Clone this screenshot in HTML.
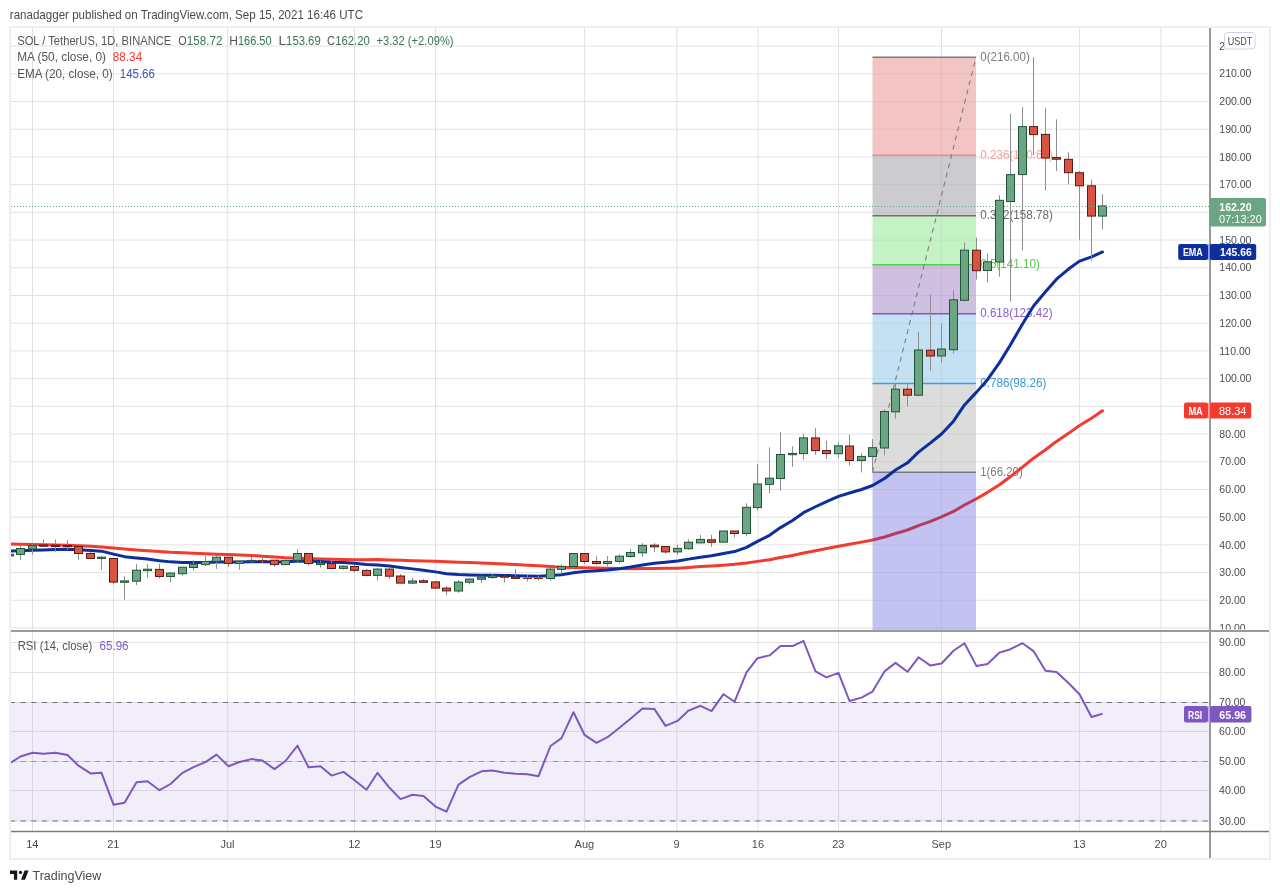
<!DOCTYPE html><html><head><meta charset="utf-8"><title>SOL / TetherUS chart</title>
<style>html,body{margin:0;padding:0;background:#fff;}body{width:1280px;height:893px;overflow:hidden;position:relative;}svg{position:absolute;left:0;top:0;display:block;will-change:transform;filter:blur(0.4px)}</style></head><body>
<svg width="1280" height="893" viewBox="0 0 1280 893" font-family="'Liberation Sans', Arial, sans-serif">
<defs><clipPath id="cp"><rect x="10" y="28" width="1199" height="602"/></clipPath><clipPath id="cr"><rect x="10" y="632" width="1199" height="199"/></clipPath></defs>
<rect width="1280" height="893" fill="#fff"/>
<text x="9.8" y="18.5" font-size="12.2" fill="#4a4a4a" textLength="353.2" lengthAdjust="spacingAndGlyphs">ranadagger published on TradingView.com, Sep 15, 2021 16:46 UTC</text>
<path d="M11,627.99H1209 M11,600.28H1209 M11,572.57H1209 M11,544.86H1209 M11,517.15H1209 M11,489.44H1209 M11,461.73H1209 M11,434.02H1209 M11,406.31H1209 M11,378.6H1209 M11,350.89H1209 M11,323.18H1209 M11,295.47H1209 M11,267.76H1209 M11,240.05H1209 M11,212.34H1209 M11,184.63H1209 M11,156.92H1209 M11,129.21H1209 M11,101.5H1209 M11,73.79H1209 M11,46.08H1209 M32.5,28V630 M32.5,632V831 M113.5,28V630 M113.5,632V831 M227.7,28V630 M227.7,632V831 M354.5,28V630 M354.5,632V831 M435.6,28V630 M435.6,632V831 M584.6,28V630 M584.6,632V831 M676.8,28V630 M676.8,632V831 M758.1,28V630 M758.1,632V831 M838.5,28V630 M838.5,632V831 M941.5,28V630 M941.5,632V831 M1079.6,28V630 M1079.6,632V831 M1160.9,28V630 M1160.9,632V831 M11,642.5H1209 M11,672.5H1209 M11,702.5H1209 M11,731.5H1209 M11,761.5H1209 M11,790.5H1209 M11,821.0H1209" stroke="#e2e2e4" stroke-width="1" fill="none"/>
<rect x="872.5" y="57.16" width="103.5" height="573.84" fill="#fff" fill-opacity="0.5"/>
<rect x="11" y="702.5" width="1198" height="118.5" fill="#7e57c2" fill-opacity="0.1"/>
<g clip-path="url(#cp)">
<text x="980.2" y="60.6" font-size="12.5" fill="#7b7b7b" textLength="49.6" lengthAdjust="spacingAndGlyphs">0(216.00)</text>
<text x="980.2" y="158.5" font-size="12.5" fill="#f2a0a0" textLength="72.8" lengthAdjust="spacingAndGlyphs">0.236(180.65)</text>
<text x="980.2" y="219.1" font-size="12.5" fill="#6a6a6a" textLength="72.8" lengthAdjust="spacingAndGlyphs">0.382(158.78)</text>
<text x="980.2" y="268.1" font-size="12.5" fill="#4fcf4f" textLength="59.8" lengthAdjust="spacingAndGlyphs">0.5(141.10)</text>
<text x="980.2" y="317.1" font-size="12.5" fill="#8a5cc6" textLength="72.4" lengthAdjust="spacingAndGlyphs">0.618(123.42)</text>
<text x="980.2" y="386.8" font-size="12.5" fill="#3a9ad8" textLength="66.3" lengthAdjust="spacingAndGlyphs">0.786(98.26)</text>
<text x="980.2" y="475.7" font-size="12.5" fill="#7b7b7b" textLength="42.6" lengthAdjust="spacingAndGlyphs">1(66.20)</text>
<path d="M10.00,544.11 L20.50,544.27 L32.50,544.46 L43.50,544.67 L55.50,544.91 L67.50,545.15 L78.50,545.68 L90.50,546.36 L101.50,547.03 L113.50,548.07 L124.50,549.02 L136.50,549.96 L147.50,550.73 L159.50,551.56 L170.50,552.32 L182.50,552.80 L193.50,553.24 L205.50,553.72 L216.50,554.13 L228.50,554.55 L239.50,554.93 L251.50,555.40 L262.50,556.17 L274.50,557.01 L285.50,557.78 L297.50,558.31 L308.50,558.61 L320.50,558.94 L331.50,559.24 L343.50,559.57 L354.50,559.73 L366.50,559.67 L377.50,559.61 L389.50,559.90 L400.50,560.25 L412.50,560.63 L423.50,560.98 L435.50,561.36 L446.50,561.74 L458.50,562.17 L469.50,562.57 L481.50,563.00 L492.50,563.50 L504.50,564.04 L515.50,564.54 L527.50,565.19 L538.50,565.87 L550.50,566.60 L561.50,567.23 L573.50,567.55 L584.50,567.70 L596.50,568.00 L607.50,568.32 L619.50,568.52 L630.50,568.64 L642.50,568.62 L654.50,568.48 L665.50,568.35 L677.50,568.17 L688.50,567.38 L700.50,566.55 L711.50,565.99 L723.50,565.22 L734.50,564.36 L746.50,563.05 L757.50,561.38 L769.50,559.66 L780.50,557.52 L792.50,555.45 L803.50,552.93 L815.50,550.72 L826.50,548.59 L838.50,546.28 L849.50,544.20 L861.50,542.12 L872.50,540.00 L884.50,536.97 L895.50,533.49 L907.50,530.02 L918.50,525.70 L930.50,521.41 L941.50,516.88 L953.50,511.49 L964.50,504.97 L976.50,498.72 L987.50,492.34 L999.50,484.70 L1010.50,476.43 L1022.50,467.14 L1033.50,458.19 L1045.50,449.77 L1056.50,441.41 L1068.50,433.35 L1079.50,425.52 L1091.50,418.27 L1102.50,410.82" stroke="#f23b2e" stroke-width="3" fill="none" stroke-linejoin="round" stroke-linecap="round"/>
<rect x="872.5" y="57.16" width="103.5" height="97.96" fill="rgb(212, 58, 58)" fill-opacity="0.3"/>
<rect x="872.5" y="155.13" width="103.5" height="60.60" fill="rgb(85, 82, 98)" fill-opacity="0.3"/>
<rect x="872.5" y="215.73" width="103.5" height="48.98" fill="rgb(58, 212, 58)" fill-opacity="0.3"/>
<rect x="872.5" y="264.71" width="103.5" height="48.98" fill="rgb(95, 42, 152)" fill-opacity="0.3"/>
<rect x="872.5" y="313.69" width="103.5" height="69.74" fill="rgb(58, 155, 215)" fill-opacity="0.3"/>
<rect x="872.5" y="383.43" width="103.5" height="88.83" fill="rgb(138, 138, 138)" fill-opacity="0.3"/>
<rect x="872.5" y="472.26" width="103.5" height="158.74" fill="rgb(52, 55, 208)" fill-opacity="0.3"/>
<path d="M872.5,57.16H976.0" stroke="#787b86" stroke-width="1.5"/>
<path d="M872.5,155.13H976.0" stroke="#f08a8a" stroke-width="1.5"/>
<path d="M872.5,215.73H976.0" stroke="#6e6e6e" stroke-width="1.5"/>
<path d="M872.5,264.71H976.0" stroke="#4cd44c" stroke-width="1.5"/>
<path d="M872.5,313.69H976.0" stroke="#7e57c2" stroke-width="1.5"/>
<path d="M872.5,383.43H976.0" stroke="#3d9ee0" stroke-width="1.5"/>
<path d="M872.5,472.26H976.0" stroke="#787b86" stroke-width="1.5"/>
<path d="M872.5,472.3L976.0,57.2" stroke="#7e7e7e" stroke-width="1.1" stroke-dasharray="5,4.5" fill="none"/>
<path d="M9.50,551.00 L20.50,550.76 L32.50,550.27 L43.50,549.88 L55.50,549.55 L67.50,549.27 L78.50,549.67 L90.50,550.51 L101.50,551.16 L113.50,554.10 L124.50,556.65 L136.50,557.95 L147.50,559.02 L159.50,560.69 L170.50,561.87 L182.50,562.38 L193.50,562.54 L205.50,562.44 L216.50,561.95 L228.50,562.10 L239.50,562.02 L251.50,561.86 L262.50,561.77 L274.50,562.04 L285.50,561.88 L297.50,561.09 L308.50,561.32 L320.50,561.49 L331.50,562.15 L343.50,562.54 L354.50,563.29 L366.50,564.45 L377.50,564.89 L389.50,565.97 L400.50,567.60 L412.50,568.88 L423.50,570.15 L435.50,571.86 L446.50,573.67 L458.50,574.48 L469.50,574.92 L481.50,575.14 L492.50,575.21 L504.50,575.41 L515.50,575.69 L527.50,575.97 L538.50,576.22 L550.50,575.54 L561.50,574.68 L573.50,572.66 L584.50,571.60 L596.50,570.83 L607.50,569.94 L619.50,568.64 L630.50,567.10 L642.50,565.03 L654.50,563.31 L665.50,562.22 L677.50,560.90 L688.50,559.13 L700.50,557.25 L711.50,555.82 L723.50,553.46 L734.50,551.56 L746.50,547.34 L757.50,541.31 L769.50,535.30 L780.50,527.60 L792.50,520.54 L803.50,512.67 L815.50,506.75 L826.50,501.69 L838.50,496.36 L849.50,492.95 L861.50,489.47 L872.50,485.49 L884.50,478.44 L895.50,469.94 L907.50,462.83 L918.50,452.08 L930.50,442.93 L941.50,433.98 L953.50,421.20 L964.50,404.91 L976.50,392.13 L987.50,379.72 L999.50,362.63 L1010.50,344.72 L1022.50,323.95 L1033.50,305.92 L1045.50,291.83 L1056.50,279.20 L1068.50,269.06 L1079.50,261.13 L1091.50,256.84 L1102.50,251.99" stroke="#0d2f9e" stroke-width="3" fill="none" stroke-linejoin="round" stroke-linecap="round"/>
<path d="M9.5,554.0V556.5 M20.5,546.0V559.8 M32.5,542.5V554.8 M43.5,539.4V546.9 M55.5,539.4V551.9 M67.5,540.0V550.0 M78.5,546.0V559.8 M90.5,552.0V558.5 M101.5,556.2V569.8 M113.5,558.5V584.4 M124.5,576.2V599.8 M136.5,564.0V585.2 M147.5,564.0V577.6 M159.5,564.0V578.5 M170.5,572.2V582.5 M182.5,567.2V575.6 M193.5,560.2V570.6 M205.5,556.0V566.0 M216.5,555.6V568.8 M228.5,557.2V566.9 M239.5,560.0V569.8 M251.5,556.9V563.8 M262.5,557.2V562.8 M274.5,560.2V566.9 M285.5,558.5V564.6 M297.5,549.2V562.6 M308.5,553.5V565.6 M320.5,560.6V567.8 M331.5,560.6V569.4 M343.5,565.2V569.8 M354.5,565.0V572.5 M366.5,569.0V576.5 M377.5,568.1V580.6 M389.5,568.1V578.8 M400.5,574.0V583.1 M412.5,577.9V584.0 M423.5,578.8V583.1 M435.5,581.9V589.0 M446.5,586.2V595.0 M458.5,580.0V592.8 M469.5,578.1V584.4 M481.5,575.6V583.1 M492.5,573.8V578.8 M504.5,575.0V582.5 M515.5,569.0V579.0 M527.5,575.0V581.5 M538.5,575.6V580.6 M550.5,567.2V580.6 M561.5,564.4V573.1 M573.5,553.5V568.5 M584.5,553.5V563.8 M596.5,556.1V564.8 M607.5,556.0V566.2 M619.5,554.4V563.5 M630.5,549.0V557.8 M642.5,543.1V556.9 M654.5,543.1V551.9 M665.5,546.5V553.8 M677.5,544.8V554.8 M688.5,539.4V549.8 M700.5,534.8V542.9 M711.5,534.8V546.9 M723.5,531.0V542.9 M734.5,531.0V537.5 M746.5,503.4V536.2 M757.5,464.2V510.5 M769.5,447.4V493.3 M780.5,431.8V490.5 M792.5,446.3V466.8 M803.5,434.0V459.8 M815.5,428.1V454.9 M826.5,440.7V459.0 M838.5,442.4V457.9 M849.5,434.8V465.7 M861.5,453.3V472.4 M872.5,439.1V471.3 M884.5,409.3V455.2 M895.5,383.8V418.7 M907.5,384.1V406.5 M918.5,331.7V395.9 M930.5,294.7V370.8 M941.5,323.3V362.8 M953.5,289.7V353.5 M964.5,242.6V300.9 M976.5,237.6V279.6 M987.5,253.5V282.4 M999.5,195.1V276.8 M1010.5,113.7V301.6 M1022.5,107.0V250.5 M1033.5,57.2V155.0 M1045.5,107.8V190.7 M1056.5,119.4V171.0 M1068.5,152.3V184.4 M1079.5,171.0V239.8 M1091.5,179.7V260.7 M1102.5,194.3V229.5" stroke="#8e8e90" stroke-width="1" fill="none"/>
<rect x="5.5" y="554.3" width="8" height="1.7" fill="#6ba583" stroke="#225437" stroke-width="1"/>
<rect x="16.5" y="548.5" width="8" height="5.9" fill="#6ba583" stroke="#225437" stroke-width="1"/>
<rect x="28.5" y="545.6" width="8" height="3.4" fill="#6ba583" stroke="#225437" stroke-width="1"/>
<rect x="39.5" y="545.0" width="8" height="1.2" fill="#d75442" stroke="#5b1a13" stroke-width="1"/>
<rect x="51.5" y="545.2" width="8" height="1.2" fill="#d75442" stroke="#5b1a13" stroke-width="1"/>
<rect x="63.5" y="545.4" width="8" height="1.2" fill="#d75442" stroke="#5b1a13" stroke-width="1"/>
<rect x="74.5" y="546.5" width="8" height="7.0" fill="#d75442" stroke="#5b1a13" stroke-width="1"/>
<rect x="86.5" y="553.5" width="8" height="5.0" fill="#d75442" stroke="#5b1a13" stroke-width="1"/>
<rect x="97.5" y="557.2" width="8" height="1.2" fill="#6ba583" stroke="#225437" stroke-width="1"/>
<rect x="109.5" y="558.5" width="8" height="23.6" fill="#d75442" stroke="#5b1a13" stroke-width="1"/>
<rect x="120.5" y="580.9" width="8" height="1.4" fill="#6ba583" stroke="#225437" stroke-width="1"/>
<rect x="132.5" y="570.2" width="8" height="11.0" fill="#6ba583" stroke="#225437" stroke-width="1"/>
<rect x="143.5" y="569.2" width="8" height="1.4" fill="#6ba583" stroke="#225437" stroke-width="1"/>
<rect x="155.5" y="569.4" width="8" height="7.1" fill="#d75442" stroke="#5b1a13" stroke-width="1"/>
<rect x="166.5" y="573.1" width="8" height="3.4" fill="#6ba583" stroke="#225437" stroke-width="1"/>
<rect x="178.5" y="567.2" width="8" height="6.5" fill="#6ba583" stroke="#225437" stroke-width="1"/>
<rect x="189.5" y="564.1" width="8" height="3.4" fill="#6ba583" stroke="#225437" stroke-width="1"/>
<rect x="201.5" y="561.5" width="8" height="3.1" fill="#6ba583" stroke="#225437" stroke-width="1"/>
<rect x="212.5" y="557.2" width="8" height="4.2" fill="#6ba583" stroke="#225437" stroke-width="1"/>
<rect x="224.5" y="557.2" width="8" height="6.2" fill="#d75442" stroke="#5b1a13" stroke-width="1"/>
<rect x="235.5" y="561.2" width="8" height="2.2" fill="#6ba583" stroke="#225437" stroke-width="1"/>
<rect x="247.5" y="560.4" width="8" height="1.1" fill="#6ba583" stroke="#225437" stroke-width="1"/>
<rect x="258.0" y="559.9" width="9" height="1.2" fill="#8a2e24"/>
<rect x="270.5" y="560.2" width="8" height="4.4" fill="#d75442" stroke="#5b1a13" stroke-width="1"/>
<rect x="281.5" y="560.4" width="8" height="4.2" fill="#6ba583" stroke="#225437" stroke-width="1"/>
<rect x="293.5" y="553.5" width="8" height="6.9" fill="#6ba583" stroke="#225437" stroke-width="1"/>
<rect x="304.5" y="553.5" width="8" height="10.0" fill="#d75442" stroke="#5b1a13" stroke-width="1"/>
<rect x="316.5" y="563.1" width="8" height="1.5" fill="#6ba583" stroke="#225437" stroke-width="1"/>
<rect x="327.5" y="563.5" width="8" height="5.0" fill="#d75442" stroke="#5b1a13" stroke-width="1"/>
<rect x="339.5" y="566.2" width="8" height="2.2" fill="#6ba583" stroke="#225437" stroke-width="1"/>
<rect x="350.5" y="566.5" width="8" height="3.9" fill="#d75442" stroke="#5b1a13" stroke-width="1"/>
<rect x="362.5" y="570.4" width="8" height="5.0" fill="#d75442" stroke="#5b1a13" stroke-width="1"/>
<rect x="373.5" y="569.1" width="8" height="6.3" fill="#6ba583" stroke="#225437" stroke-width="1"/>
<rect x="385.5" y="569.1" width="8" height="7.1" fill="#d75442" stroke="#5b1a13" stroke-width="1"/>
<rect x="396.5" y="576.0" width="8" height="7.1" fill="#d75442" stroke="#5b1a13" stroke-width="1"/>
<rect x="408.5" y="581.0" width="8" height="2.1" fill="#6ba583" stroke="#225437" stroke-width="1"/>
<rect x="419.5" y="580.8" width="8" height="1.5" fill="#d75442" stroke="#5b1a13" stroke-width="1"/>
<rect x="431.5" y="581.9" width="8" height="6.2" fill="#d75442" stroke="#5b1a13" stroke-width="1"/>
<rect x="442.5" y="588.1" width="8" height="2.8" fill="#d75442" stroke="#5b1a13" stroke-width="1"/>
<rect x="454.5" y="582.1" width="8" height="8.9" fill="#6ba583" stroke="#225437" stroke-width="1"/>
<rect x="465.5" y="579.1" width="8" height="3.1" fill="#6ba583" stroke="#225437" stroke-width="1"/>
<rect x="477.5" y="577.2" width="8" height="2.1" fill="#6ba583" stroke="#225437" stroke-width="1"/>
<rect x="488.5" y="575.9" width="8" height="1.6" fill="#6ba583" stroke="#225437" stroke-width="1"/>
<rect x="500.5" y="576.0" width="8" height="1.2" fill="#d75442" stroke="#5b1a13" stroke-width="1"/>
<rect x="511.5" y="577.1" width="8" height="1.3" fill="#d75442" stroke="#5b1a13" stroke-width="1"/>
<rect x="523.0" y="577.8" width="9" height="1.2" fill="#8a2e24"/>
<rect x="534.0" y="577.8" width="9" height="1.2" fill="#8a2e24"/>
<rect x="546.5" y="569.1" width="8" height="9.4" fill="#6ba583" stroke="#225437" stroke-width="1"/>
<rect x="557.5" y="566.5" width="8" height="2.9" fill="#6ba583" stroke="#225437" stroke-width="1"/>
<rect x="569.5" y="553.5" width="8" height="13.0" fill="#6ba583" stroke="#225437" stroke-width="1"/>
<rect x="580.5" y="553.5" width="8" height="8.0" fill="#d75442" stroke="#5b1a13" stroke-width="1"/>
<rect x="592.5" y="561.5" width="8" height="2.0" fill="#d75442" stroke="#5b1a13" stroke-width="1"/>
<rect x="603.5" y="561.5" width="8" height="2.0" fill="#6ba583" stroke="#225437" stroke-width="1"/>
<rect x="615.5" y="556.2" width="8" height="5.2" fill="#6ba583" stroke="#225437" stroke-width="1"/>
<rect x="626.5" y="552.5" width="8" height="4.0" fill="#6ba583" stroke="#225437" stroke-width="1"/>
<rect x="638.5" y="545.4" width="8" height="7.4" fill="#6ba583" stroke="#225437" stroke-width="1"/>
<rect x="650.5" y="545.2" width="8" height="1.6" fill="#d75442" stroke="#5b1a13" stroke-width="1"/>
<rect x="661.5" y="546.5" width="8" height="5.4" fill="#d75442" stroke="#5b1a13" stroke-width="1"/>
<rect x="673.5" y="548.4" width="8" height="3.5" fill="#6ba583" stroke="#225437" stroke-width="1"/>
<rect x="684.5" y="542.2" width="8" height="6.5" fill="#6ba583" stroke="#225437" stroke-width="1"/>
<rect x="696.5" y="539.4" width="8" height="3.5" fill="#6ba583" stroke="#225437" stroke-width="1"/>
<rect x="707.5" y="539.8" width="8" height="2.5" fill="#d75442" stroke="#5b1a13" stroke-width="1"/>
<rect x="719.5" y="531.0" width="8" height="11.1" fill="#6ba583" stroke="#225437" stroke-width="1"/>
<rect x="730.5" y="531.0" width="8" height="2.5" fill="#d75442" stroke="#5b1a13" stroke-width="1"/>
<rect x="742.5" y="507.3" width="8" height="26.2" fill="#6ba583" stroke="#225437" stroke-width="1"/>
<rect x="753.5" y="484.0" width="8" height="23.6" fill="#6ba583" stroke="#225437" stroke-width="1"/>
<rect x="765.5" y="478.2" width="8" height="6.2" fill="#6ba583" stroke="#225437" stroke-width="1"/>
<rect x="776.5" y="454.5" width="8" height="24.0" fill="#6ba583" stroke="#225437" stroke-width="1"/>
<rect x="788.5" y="453.4" width="8" height="1.3" fill="#6ba583" stroke="#225437" stroke-width="1"/>
<rect x="799.5" y="437.9" width="8" height="15.7" fill="#6ba583" stroke="#225437" stroke-width="1"/>
<rect x="811.5" y="437.9" width="8" height="12.7" fill="#d75442" stroke="#5b1a13" stroke-width="1"/>
<rect x="822.5" y="450.5" width="8" height="3.1" fill="#d75442" stroke="#5b1a13" stroke-width="1"/>
<rect x="834.5" y="445.8" width="8" height="7.9" fill="#6ba583" stroke="#225437" stroke-width="1"/>
<rect x="845.5" y="446.0" width="8" height="14.5" fill="#d75442" stroke="#5b1a13" stroke-width="1"/>
<rect x="857.5" y="456.4" width="8" height="4.1" fill="#6ba583" stroke="#225437" stroke-width="1"/>
<rect x="868.5" y="447.7" width="8" height="8.7" fill="#6ba583" stroke="#225437" stroke-width="1"/>
<rect x="880.5" y="411.5" width="8" height="36.5" fill="#6ba583" stroke="#225437" stroke-width="1"/>
<rect x="891.5" y="389.2" width="8" height="22.6" fill="#6ba583" stroke="#225437" stroke-width="1"/>
<rect x="903.5" y="389.2" width="8" height="6.0" fill="#d75442" stroke="#5b1a13" stroke-width="1"/>
<rect x="914.5" y="350.0" width="8" height="45.2" fill="#6ba583" stroke="#225437" stroke-width="1"/>
<rect x="926.5" y="350.2" width="8" height="5.8" fill="#d75442" stroke="#5b1a13" stroke-width="1"/>
<rect x="937.5" y="349.0" width="8" height="7.0" fill="#6ba583" stroke="#225437" stroke-width="1"/>
<rect x="949.5" y="299.8" width="8" height="49.9" fill="#6ba583" stroke="#225437" stroke-width="1"/>
<rect x="960.5" y="250.2" width="8" height="50.1" fill="#6ba583" stroke="#225437" stroke-width="1"/>
<rect x="972.5" y="250.2" width="8" height="20.5" fill="#d75442" stroke="#5b1a13" stroke-width="1"/>
<rect x="983.5" y="261.8" width="8" height="8.7" fill="#6ba583" stroke="#225437" stroke-width="1"/>
<rect x="995.5" y="200.3" width="8" height="61.7" fill="#6ba583" stroke="#225437" stroke-width="1"/>
<rect x="1006.5" y="174.6" width="8" height="26.9" fill="#6ba583" stroke="#225437" stroke-width="1"/>
<rect x="1018.5" y="126.6" width="8" height="48.0" fill="#6ba583" stroke="#225437" stroke-width="1"/>
<rect x="1029.5" y="126.6" width="8" height="8.0" fill="#d75442" stroke="#5b1a13" stroke-width="1"/>
<rect x="1041.5" y="134.4" width="8" height="23.6" fill="#d75442" stroke="#5b1a13" stroke-width="1"/>
<rect x="1052.5" y="157.6" width="8" height="1.6" fill="#d75442" stroke="#5b1a13" stroke-width="1"/>
<rect x="1064.5" y="159.3" width="8" height="13.4" fill="#d75442" stroke="#5b1a13" stroke-width="1"/>
<rect x="1075.5" y="172.7" width="8" height="13.1" fill="#d75442" stroke="#5b1a13" stroke-width="1"/>
<rect x="1087.5" y="185.8" width="8" height="30.3" fill="#d75442" stroke="#5b1a13" stroke-width="1"/>
<rect x="1098.5" y="205.9" width="8" height="10.2" fill="#6ba583" stroke="#225437" stroke-width="1"/>
<path d="M11,206.5H1209" stroke="#6ba583" stroke-width="1" stroke-dasharray="1,2"/>
</g>
<g clip-path="url(#cr)">
<path d="M9.9,702.5H1209" stroke="#6c6f82" stroke-width="1" stroke-dasharray="5.2,5.45"/>
<path d="M9.9,761.5H1209" stroke="#9699a6" stroke-width="1" stroke-dasharray="5.2,5.45"/>
<path d="M9.9,821H1209" stroke="#6c6f82" stroke-width="1" stroke-dasharray="5.2,5.45"/>
<path d="M9.5,763.4 L20.5,756.5 L32.5,752.8 L43.5,753.7 L55.5,752.8 L67.5,755.0 L78.5,765.7 L90.5,773.4 L101.5,772.8 L113.5,804.7 L124.5,802.8 L136.5,782.2 L147.5,781.2 L159.5,790.2 L170.5,784.0 L182.5,772.8 L193.5,767.2 L205.5,762.1 L216.5,754.6 L228.5,766.2 L239.5,762.0 L251.5,759.1 L262.5,760.6 L274.5,769.1 L285.5,761.0 L297.5,745.6 L308.5,767.2 L320.5,766.2 L331.5,775.6 L343.5,771.9 L354.5,780.3 L366.5,789.7 L377.5,772.8 L389.5,787.8 L400.5,799.1 L412.5,794.8 L423.5,795.9 L435.5,806.6 L446.5,811.6 L458.5,784.6 L469.5,777.1 L481.5,771.3 L492.5,770.6 L504.5,772.8 L515.5,773.8 L527.5,774.3 L538.5,776.2 L550.5,746.0 L561.5,738.1 L573.5,712.2 L584.5,734.8 L596.5,742.8 L607.5,737.2 L619.5,727.8 L630.5,718.8 L642.5,708.5 L654.5,709.1 L665.5,725.9 L677.5,720.9 L688.5,710.6 L700.5,705.8 L711.5,711.1 L723.5,694.2 L734.5,701.8 L746.5,672.3 L757.5,658.2 L769.5,655.4 L780.5,646.1 L792.5,646.1 L803.5,641.0 L815.5,671.4 L826.5,677.4 L838.5,672.9 L849.5,701.0 L861.5,697.6 L872.5,691.6 L884.5,671.4 L895.5,662.9 L907.5,671.8 L918.5,657.3 L930.5,665.6 L941.5,663.5 L953.5,650.8 L964.5,643.2 L976.5,666.1 L987.5,663.9 L999.5,652.6 L1010.5,649.2 L1022.5,643.2 L1033.5,651.1 L1045.5,670.8 L1056.5,672.0 L1068.5,683.0 L1079.5,694.2 L1091.5,717.0 L1102.5,713.8" stroke="#7e57c2" stroke-width="2" fill="none" stroke-linejoin="round"/>
</g>
<path d="M1210,26V859" stroke="#9a9a9a" stroke-width="2"/>
<path d="M10,631H1270" stroke="#9a9a9a" stroke-width="2"/>
<path d="M10,831.5H1270" stroke="#7c7c7c" stroke-width="1.4"/>
<rect x="10" y="27" width="1260" height="832" fill="none" stroke="#eceef3" stroke-width="2"/>
<clipPath id="c220"><rect x="1211" y="30" width="13.5" height="25"/></clipPath>
<text x="1219.3" y="603.9" font-size="10.5" fill="#4c4c4c">20.00</text><text x="1219.3" y="576.2" font-size="10.5" fill="#4c4c4c">30.00</text><text x="1219.3" y="548.5" font-size="10.5" fill="#4c4c4c">40.00</text><text x="1219.3" y="520.8" font-size="10.5" fill="#4c4c4c">50.00</text><text x="1219.3" y="493.0" font-size="10.5" fill="#4c4c4c">60.00</text><text x="1219.3" y="465.3" font-size="10.5" fill="#4c4c4c">70.00</text><text x="1219.3" y="437.6" font-size="10.5" fill="#4c4c4c">80.00</text><text x="1219.3" y="382.2" font-size="10.5" fill="#4c4c4c">100.00</text><text x="1219.3" y="354.5" font-size="10.5" fill="#4c4c4c">110.00</text><text x="1219.3" y="326.8" font-size="10.5" fill="#4c4c4c">120.00</text><text x="1219.3" y="299.1" font-size="10.5" fill="#4c4c4c">130.00</text><text x="1219.3" y="271.4" font-size="10.5" fill="#4c4c4c">140.00</text><text x="1219.3" y="243.7" font-size="10.5" fill="#4c4c4c">150.00</text><text x="1219.3" y="188.2" font-size="10.5" fill="#4c4c4c">170.00</text><text x="1219.3" y="160.5" font-size="10.5" fill="#4c4c4c">180.00</text><text x="1219.3" y="132.8" font-size="10.5" fill="#4c4c4c">190.00</text><text x="1219.3" y="105.1" font-size="10.5" fill="#4c4c4c">200.00</text><text x="1219.3" y="77.4" font-size="10.5" fill="#4c4c4c">210.00</text><text x="1219.3" y="49.7" font-size="10.5" fill="#4c4c4c" clip-path="url(#c220)">220.00</text>
<clipPath id="c10"><rect x="1211" y="600" width="58" height="29.5"/></clipPath>
<text x="1219.3" y="631.6" font-size="10.5" fill="#4c4c4c" clip-path="url(#c10)">10.00</text>
<text x="1219.1" y="646.2" font-size="10.5" fill="#4c4c4c">90.00</text>
<text x="1219.1" y="676.2" font-size="10.5" fill="#4c4c4c">80.00</text>
<text x="1219.1" y="706.2" font-size="10.5" fill="#4c4c4c">70.00</text>
<text x="1219.1" y="735.2" font-size="10.5" fill="#4c4c4c">60.00</text>
<text x="1219.1" y="765.2" font-size="10.5" fill="#4c4c4c">50.00</text>
<text x="1219.1" y="794.2" font-size="10.5" fill="#4c4c4c">40.00</text>
<text x="1219.1" y="824.7" font-size="10.5" fill="#4c4c4c">30.00</text>
<rect x="1224.5" y="32.5" width="30.5" height="16.5" rx="3" fill="#fff" stroke="#d2d2e6" stroke-width="1"/>
<text x="1227.8" y="44.8" font-size="11" fill="#4c4c4c" textLength="24.5" lengthAdjust="spacingAndGlyphs">USDT</text>
<rect x="1209.3" y="197.9" width="56.7" height="28.6" rx="2" fill="#6ba583"/>
<text x="1219.3" y="210.6" font-size="11" font-weight="bold" fill="#fff" textLength="32.2" lengthAdjust="spacingAndGlyphs">162.20</text>
<text x="1219" y="222.8" font-size="11" fill="#fff">07:13:20</text>
<rect x="1178.2" y="244.1" width="29.9" height="16" rx="2" fill="#0d2f9e"/>
<rect x="1209.6" y="244.1" width="46.6" height="16" rx="2" fill="#0d2f9e"/>
<rect x="1208" y="244.1" width="1.6" height="16" fill="#9aa8d8"/>
<text x="1182.9" y="256.2" font-size="11" font-weight="bold" fill="#fff" textLength="19.9" lengthAdjust="spacingAndGlyphs">EMA</text>
<text x="1220" y="256.2" font-size="11" font-weight="bold" fill="#fff" textLength="31.8" lengthAdjust="spacingAndGlyphs">145.66</text>
<rect x="1184" y="402.4" width="24.1" height="16.2" rx="2" fill="#f23b2e"/>
<rect x="1209.6" y="402.4" width="41.6" height="16.2" rx="2" fill="#f23b2e"/>
<rect x="1208" y="402.4" width="1.6" height="16.2" fill="#f9a9a2"/>
<text x="1188.4" y="414.6" font-size="11" font-weight="bold" fill="#fff" textLength="14.4" lengthAdjust="spacingAndGlyphs">MA</text>
<text x="1219" y="414.6" font-size="11" font-weight="normal" fill="#fff" textLength="27.4" lengthAdjust="spacingAndGlyphs">88.34</text>
<rect x="1184" y="706" width="24" height="16.4" rx="2" fill="#7e57c2"/>
<rect x="1209.6" y="706" width="41.8" height="16.4" rx="2" fill="#7e57c2"/>
<rect x="1208" y="706" width="1.6" height="16.4" fill="#c4b3e3"/>
<text x="1188.1" y="718.5" font-size="11" font-weight="bold" fill="#fff" textLength="14.1" lengthAdjust="spacingAndGlyphs">RSI</text>
<text x="1219.2" y="718.5" font-size="11" font-weight="bold" fill="#fff" textLength="26.9" lengthAdjust="spacingAndGlyphs">65.96</text>
<text x="32.3" y="848" font-size="11" fill="#4c4c4c" text-anchor="middle">14</text>
<text x="113.3" y="848" font-size="11" fill="#4c4c4c" text-anchor="middle">21</text>
<text x="227.5" y="848" font-size="11" fill="#4c4c4c" text-anchor="middle">Jul</text>
<text x="354.3" y="848" font-size="11" fill="#4c4c4c" text-anchor="middle">12</text>
<text x="435.40000000000003" y="848" font-size="11" fill="#4c4c4c" text-anchor="middle">19</text>
<text x="584.4" y="848" font-size="11" fill="#4c4c4c" text-anchor="middle">Aug</text>
<text x="676.5999999999999" y="848" font-size="11" fill="#4c4c4c" text-anchor="middle">9</text>
<text x="757.9" y="848" font-size="11" fill="#4c4c4c" text-anchor="middle">16</text>
<text x="838.3" y="848" font-size="11" fill="#4c4c4c" text-anchor="middle">23</text>
<text x="941.3" y="848" font-size="11" fill="#4c4c4c" text-anchor="middle">Sep</text>
<text x="1079.3999999999999" y="848" font-size="11" fill="#4c4c4c" text-anchor="middle">13</text>
<text x="1160.7" y="848" font-size="11" fill="#4c4c4c" text-anchor="middle">20</text>
<text x="17.2" y="44.6" font-size="12.3" font-weight="normal" fill="#555555" textLength="154.1" lengthAdjust="spacingAndGlyphs">SOL / TetherUS, 1D, BINANCE</text>
<text x="178.3" y="44.6" font-size="12.3" font-weight="normal" fill="#555555" textLength="8.4" lengthAdjust="spacingAndGlyphs">O</text>
<text x="186.8" y="44.6" font-size="12.3" font-weight="normal" fill="#3a7552" textLength="35.6" lengthAdjust="spacingAndGlyphs">158.72</text>
<text x="229.3" y="44.6" font-size="12.3" font-weight="normal" fill="#555555" textLength="8.7" lengthAdjust="spacingAndGlyphs">H</text>
<text x="238.0" y="44.6" font-size="12.3" font-weight="normal" fill="#3a7552" textLength="33.6" lengthAdjust="spacingAndGlyphs">166.50</text>
<text x="278.6" y="44.6" font-size="12.3" font-weight="normal" fill="#555555" textLength="7.5" lengthAdjust="spacingAndGlyphs">L</text>
<text x="286.1" y="44.6" font-size="12.3" font-weight="normal" fill="#3a7552" textLength="34.6" lengthAdjust="spacingAndGlyphs">153.69</text>
<text x="327.1" y="44.6" font-size="12.3" font-weight="normal" fill="#555555" textLength="8.1" lengthAdjust="spacingAndGlyphs">C</text>
<text x="335.2" y="44.6" font-size="12.3" font-weight="normal" fill="#3a7552" textLength="34.7" lengthAdjust="spacingAndGlyphs">162.20</text>
<text x="376.4" y="44.6" font-size="12.3" font-weight="normal" fill="#3a7552" textLength="77.2" lengthAdjust="spacingAndGlyphs">+3.32 (+2.09%)</text>
<text x="17.2" y="61.2" font-size="12.3" font-weight="normal" fill="#555555" textLength="88.8" lengthAdjust="spacingAndGlyphs">MA (50, close, 0)</text>
<text x="112.7" y="61.2" font-size="12.3" font-weight="normal" fill="#f23b2e" textLength="29.5" lengthAdjust="spacingAndGlyphs">88.34</text>
<text x="17.2" y="78.0" font-size="12.3" font-weight="normal" fill="#555555" textLength="95.4" lengthAdjust="spacingAndGlyphs">EMA (20, close, 0)</text>
<text x="119.8" y="78.0" font-size="12.3" font-weight="normal" fill="#3853bd" textLength="35.0" lengthAdjust="spacingAndGlyphs">145.66</text>
<text x="17.7" y="649.6" font-size="12.3" font-weight="normal" fill="#555555" textLength="74.6" lengthAdjust="spacingAndGlyphs">RSI (14, close)</text>
<text x="99.6" y="649.6" font-size="12.3" font-weight="normal" fill="#7e57c2" textLength="28.9" lengthAdjust="spacingAndGlyphs">65.96</text>
<g fill="#131722"><path d="M10,870.6H17.2V879.7H13.9V874H10Z"/><circle cx="20.5" cy="872.4" r="1.65"/><path d="M24.6,870.6H28.6L25,879.7H21Z"/></g>
<text x="32.5" y="880" font-size="12.5" fill="#4a4a4a">TradingView</text>
</svg></body></html>
